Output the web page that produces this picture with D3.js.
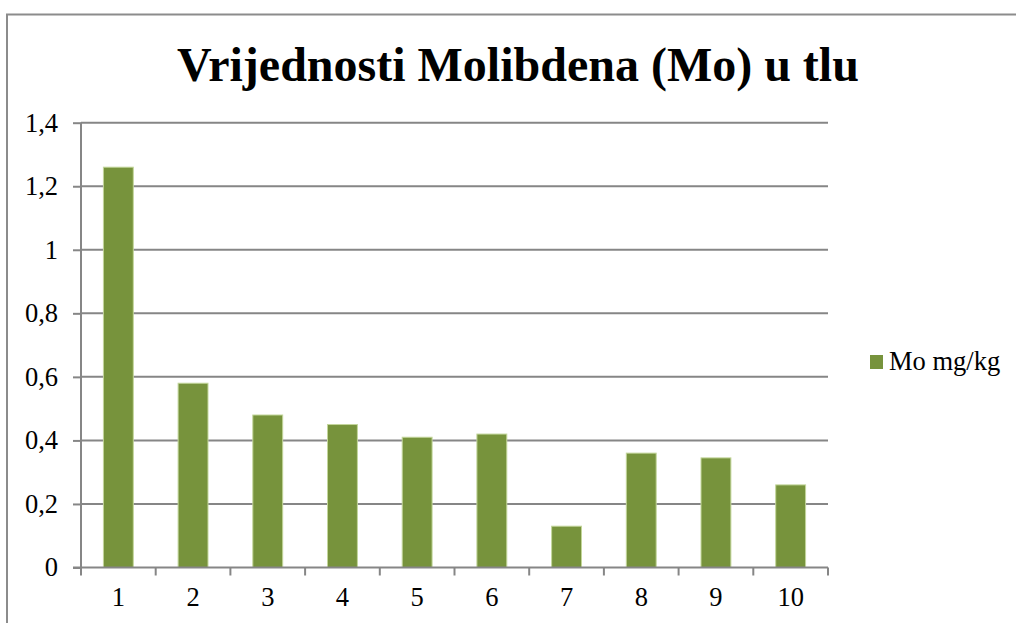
<!DOCTYPE html>
<html lang="hr">
<head>
<meta charset="utf-8">
<title>Vrijednosti Molibdena (Mo) u tlu</title>
<script src="https://d3js.org/d3.v7.min.js"></script>
<style>
  body { margin: 0; background: #fff; }
  svg { display: block; }
</style>
</head>
<body>
<script>
// podaci
var categories = ["1", "2", "3", "4", "5", "6", "7", "8", "9", "10"];
var moValues = [1.26, 0.58, 0.48, 0.45, 0.41, 0.42, 0.13, 0.36, 0.345, 0.26];
var yTicks = [0, 0.2, 0.4, 0.6, 0.8, 1, 1.2, 1.4];
var seriesName = "Mo mg/kg";
var title = "Vrijednosti Molibdena (Mo) u tlu";

var width = 1016,
    height = 623;

var plot = { left: 81, right: 828, top: 122.7, bottom: 567.5 };
var barColor = "#77933c",
    gridColor = "#868686",
    font = "'Liberation Serif', 'Times New Roman', serif";

var svg = d3.select("body").append("svg")
    .attr("width", width)
    .attr("height", height);

// okvir grafikona
svg.append("rect")
    .attr("x", 7)
    .attr("y", 14.5)
    .attr("width", width + 20)
    .attr("height", height + 20)
    .attr("fill", "#fff")
    .attr("stroke", "#8c8c8c")
    .attr("stroke-width", 2);

var x = d3.scaleBand()
    .domain(categories)
    .range([plot.left, plot.right])
    .paddingInner(0.6)
    .paddingOuter(0.3);

var y = d3.scaleLinear()
    .domain([0, 1.4])
    .range([plot.bottom, plot.top]);

// y os
var yAxis = svg.append("g")
    .attr("transform", "translate(" + plot.left + ",0)")
    .call(d3.axisLeft(y)
        .tickValues(yTicks)
        .tickSize(8)
        .tickPadding(15)
        .tickFormat(function(d) { return String(d).replace(".", ","); }));
yAxis.select(".domain").attr("stroke", gridColor).attr("stroke-width", 2).attr("d", "M0," + plot.top + "V" + plot.bottom);
yAxis.selectAll(".tick line").attr("stroke", gridColor).attr("stroke-width", 2);
yAxis.selectAll("text")
    .style("font-family", font)
    .style("font-size", "26.5px")
    .attr("fill", "#000");

// mreza
svg.append("g")
    .selectAll("line")
    .data(yTicks.filter(function(d) { return d > 0; }))
    .enter().append("line")
    .attr("x1", plot.left)
    .attr("x2", plot.right)
    .attr("y1", function(d) { return y(d); })
    .attr("y2", function(d) { return y(d); })
    .attr("stroke", gridColor)
    .attr("stroke-width", 2);

// stupci
svg.append("g")
    .selectAll("rect")
    .data(moValues)
    .enter().append("rect")
    .attr("x", function(d, i) { return x(categories[i]); })
    .attr("y", function(d) { return y(d); })
    .attr("width", x.bandwidth())
    .attr("height", function(d) { return y(0) - y(d); })
    .attr("fill", barColor)
    .attr("stroke", "#c3d69b")
    .attr("stroke-width", 1);

// x os
var step = x.step();
var boundaries = d3.range(categories.length + 1).map(function(i) { return plot.left + i * step; });
var xAxis = svg.append("g");
xAxis.append("line")
    .attr("x1", plot.left - 8)
    .attr("x2", plot.right)
    .attr("y1", plot.bottom)
    .attr("y2", plot.bottom)
    .attr("stroke", gridColor)
    .attr("stroke-width", 2);
xAxis.selectAll(".xtick")
    .data(boundaries)
    .enter().append("line")
    .attr("class", "xtick")
    .attr("x1", function(d) { return d; })
    .attr("x2", function(d) { return d; })
    .attr("y1", plot.bottom)
    .attr("y2", plot.bottom + 8)
    .attr("stroke", gridColor)
    .attr("stroke-width", 2);
xAxis.selectAll("text")
    .data(categories)
    .enter().append("text")
    .attr("x", function(d) { return x(d) + x.bandwidth() / 2; })
    .attr("y", 606)
    .attr("text-anchor", "middle")
    .style("font-family", font)
    .style("font-size", "26.5px")
    .text(function(d) { return d; });

// naslov
svg.append("text")
    .attr("x", 518)
    .attr("y", 81)
    .attr("text-anchor", "middle")
    .style("font-family", font)
    .style("font-weight", "bold")
    .style("font-size", "48px")
    .text(title);

// legenda
var legend = svg.append("g").attr("transform", "translate(870,355)");
legend.append("rect")
    .attr("width", 13)
    .attr("height", 14)
    .attr("fill", barColor);
legend.append("text")
    .attr("x", 19)
    .attr("y", 15)
    .style("font-family", font)
    .style("font-size", "26.5px")
    .text(seriesName);
</script>
</body>
</html>
